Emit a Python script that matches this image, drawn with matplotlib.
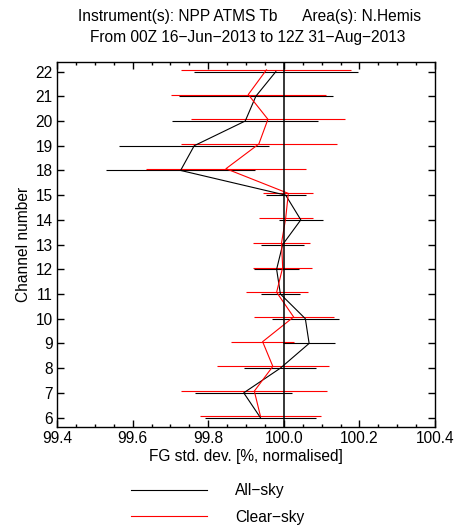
import numpy as np
import matplotlib
matplotlib.use("Agg")
import matplotlib.pyplot as plt
from matplotlib.ticker import MultipleLocator

plt.rcParams['font.family'] = ['Liberation Sans', 'DejaVu Sans']
plt.rcParams['font.size'] = 11.2

# -----------------------------------------------------------------------------
# Datos
# -----------------------------------------------------------------------------
channels = [6, 7, 8, 9, 10, 11, 12, 13, 14, 15, 18, 19, 20, 21, 22]
allsky = [99.938, 99.894, 99.991, 100.067, 100.057, 99.991, 99.981, 99.997,
          100.045, 100.005, 99.727, 99.763, 99.898, 99.926, 99.979]
allsky_err = [0.147, 0.129, 0.095, 0.069, 0.089, 0.052, 0.060, 0.056,
              0.058, 0.053, 0.198, 0.199, 0.193, 0.203, 0.217]
clearsky = [99.938, 99.922, 99.971, 99.944, 100.026, 99.981, 99.997, 99.994,
            100.005, 100.012, 99.847, 99.934, 99.958, 99.906, 99.954]
clearsky_err = [0.161, 0.193, 0.149, 0.084, 0.106, 0.082, 0.078, 0.075,
                0.071, 0.066, 0.211, 0.207, 0.204, 0.205, 0.225]

allsky = np.array(allsky)
clearsky = np.array(clearsky)
pos = np.arange(len(channels))
red_off = 0.07  # las barras rojas van un poco desplazadas hacia arriba

# -----------------------------------------------------------------------------
# Gráfica
# -----------------------------------------------------------------------------
fig = plt.figure(figsize=(4.57, 5.31), dpi=100)
ax = fig.add_axes([57/457, 1 - 426.7/531, 378/457, 365/531])

ax.hlines(pos, allsky - np.array(allsky_err), allsky + np.array(allsky_err),
          color='black', lw=0.8)
ax.hlines(pos + red_off, clearsky - np.array(clearsky_err),
          clearsky + np.array(clearsky_err), color='red', lw=0.8)
l1, = ax.plot(allsky, pos, color='black', lw=0.8, label='All\u2212sky')
l2, = ax.plot(clearsky, pos + red_off, color='red', lw=0.8, label='Clear\u2212sky')
ax.axvline(100.0, color='black', lw=1.1, zorder=5)

ax.set_xlim(99.4, 100.4)
ax.set_ylim(-0.37, 14.4)
ax.set_yticks(pos)
ax.set_yticklabels([str(c) for c in channels])
ax.xaxis.set_major_locator(MultipleLocator(0.2))
ax.xaxis.set_minor_locator(MultipleLocator(0.05))
ax.xaxis.set_major_formatter(matplotlib.ticker.FormatStrFormatter('%.1f'))
ax.tick_params(which='both', direction='in', top=True, right=True, width=1.0)
ax.tick_params(which='major', length=5)
ax.tick_params(which='minor', length=2.5)
ax.tick_params(axis='x', pad=3)
ax.tick_params(axis='y', pad=3)
for s in ax.spines.values():
    s.set_linewidth(1.0)

ax.set_xlabel('FG std. dev. [%, normalised]', labelpad=2)
ax.set_ylabel('Channel number', labelpad=3)

fig.text(250/457, 1 - 16/531, 'Instrument(s): NPP ATMS Tb      Area(s): N.Hemis',
         ha='center', va='center')
fig.text(248/457, 1 - 37/531, 'From 00Z 16\u2212Jun\u22122013 to 12Z 31\u2212Aug\u22122013',
         ha='center', va='center')

fig.legend(handles=[l1, l2], loc='upper left', bbox_to_anchor=(131/457, 1 - 483/531),
           frameon=False, handlelength=4.88, handletextpad=1.8, labelspacing=0.74,
           borderpad=0, borderaxespad=0)

fig.savefig('out.png', dpi=100)
